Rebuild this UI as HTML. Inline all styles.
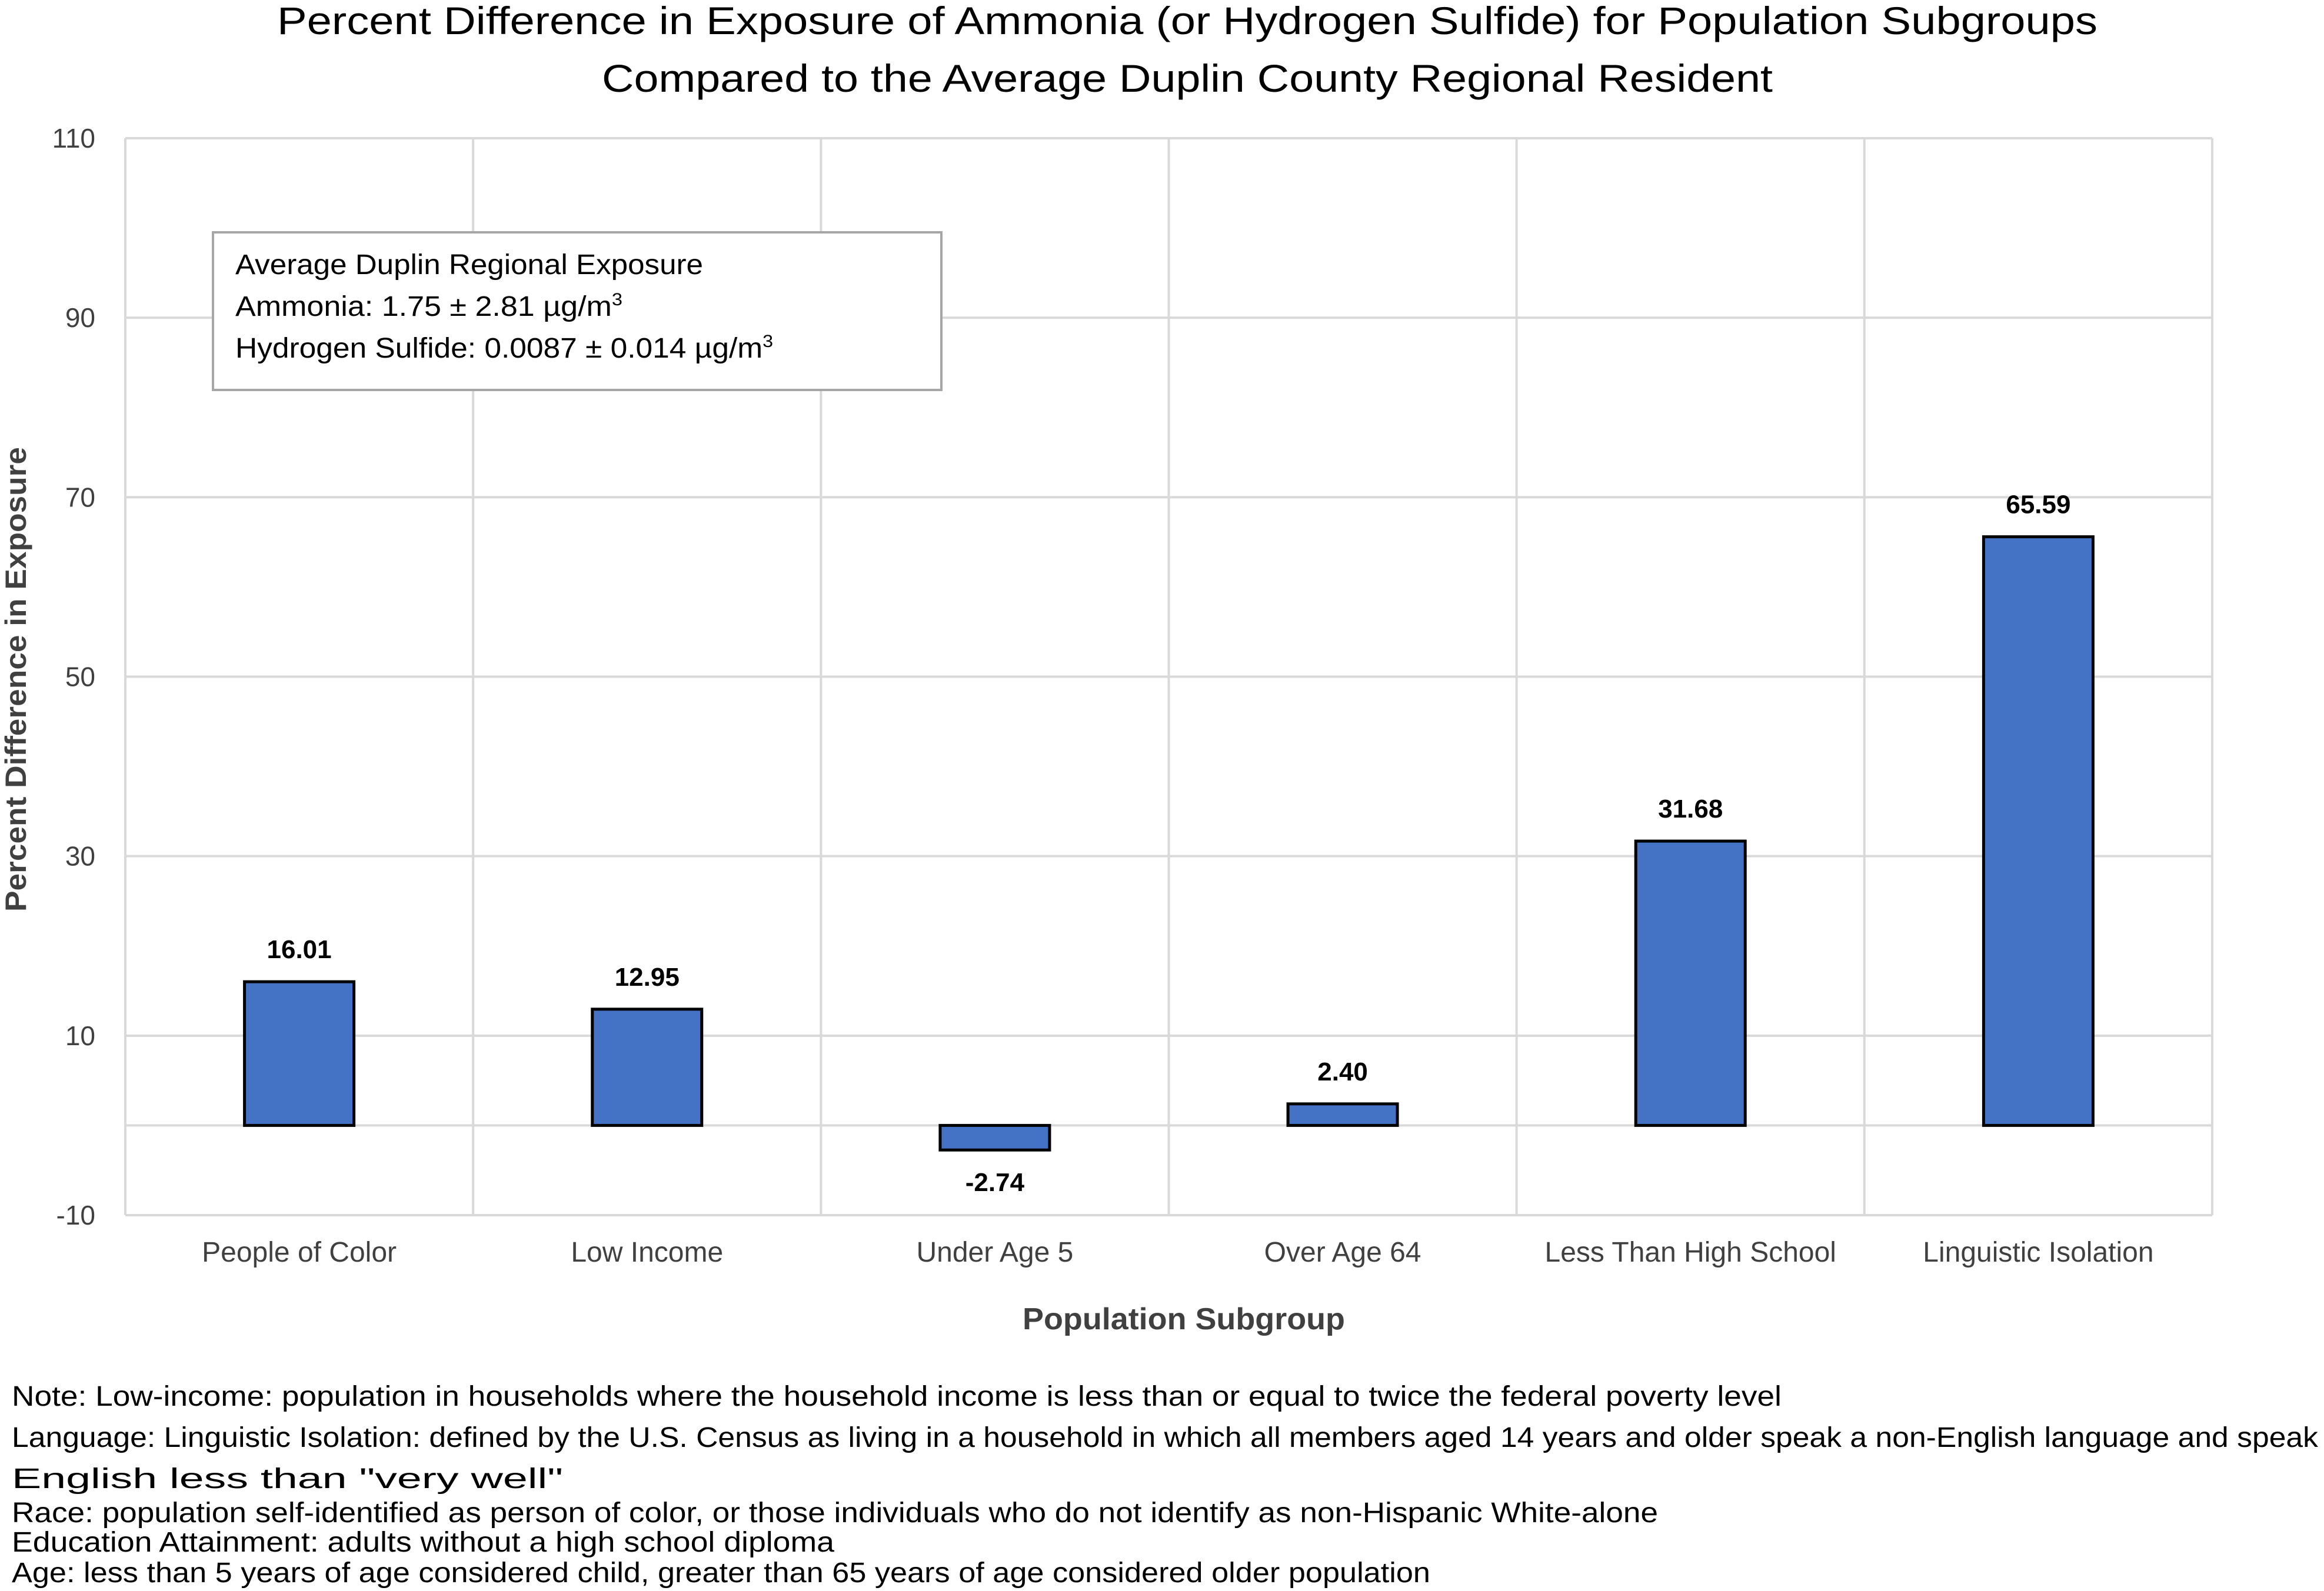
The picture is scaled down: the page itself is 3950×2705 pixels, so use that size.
<!DOCTYPE html>
<html><head><meta charset="utf-8"><style>
html,body{margin:0;padding:0;background:#fff;}
svg{display:block;font-family:"Liberation Sans",sans-serif;}
</style></head><body>
<svg id="chart" width="3950" height="2705" viewBox="0 0 3950 2705" xmlns="http://www.w3.org/2000/svg">
<g fill="#000" font-size="66" text-anchor="middle">
<text x="2018" y="58" textLength="3094" lengthAdjust="spacingAndGlyphs">Percent Difference in Exposure of Ammonia (or Hydrogen Sulfide) for Population Subgroups</text>
<text x="2018" y="156" textLength="1990" lengthAdjust="spacingAndGlyphs">Compared to the Average Duplin County Regional Resident</text>
</g>
<g id="grid"></g>
<g id="bars"></g>
<g id="yticks" font-size="46" fill="#404040" text-anchor="end"></g>
<g id="xticks" font-size="48" fill="#404040" text-anchor="middle"></g>
<text transform="translate(44,1155) rotate(-90)" text-anchor="middle" font-size="50" font-weight="bold" fill="#404040" textLength="790" lengthAdjust="spacingAndGlyphs">Percent Difference in Exposure</text>
<text x="2012" y="2260" text-anchor="middle" font-size="52" font-weight="bold" fill="#404040" textLength="548" lengthAdjust="spacingAndGlyphs">Population Subgroup</text>
<g>
<rect x="362" y="395" width="1238" height="268" fill="#fff" stroke="#a6a6a6" stroke-width="4"/>
<g font-size="48" fill="#000">
<text x="400" y="466" textLength="795" lengthAdjust="spacingAndGlyphs">Average Duplin Regional Exposure</text>
<text x="400" y="537" textLength="658" lengthAdjust="spacingAndGlyphs">Ammonia:  1.75 ± 2.81 µg/m<tspan font-size="30" dy="-18">3</tspan></text>
<text x="400" y="608" textLength="914" lengthAdjust="spacingAndGlyphs">Hydrogen Sulfide: 0.0087 ± 0.014 µg/m<tspan font-size="30" dy="-18">3</tspan></text>
</g>
</g>
<g font-size="48" fill="#000">
<text x="20" y="2390" textLength="3008" lengthAdjust="spacingAndGlyphs">Note: Low-income: population in households where the household income is less than or equal to twice the federal poverty level</text>
<text x="20" y="2460" textLength="3920" lengthAdjust="spacingAndGlyphs">Language: Linguistic Isolation: defined by the U.S. Census as living in a household in which all members aged 14 years and older speak a non-English language and speak</text>
<text x="20" y="2530" textLength="937" lengthAdjust="spacingAndGlyphs">English less than "very well"</text>
<text x="20" y="2588" textLength="2798" lengthAdjust="spacingAndGlyphs">Race: population self-identified as person of color, or those individuals who do not identify as non-Hispanic White-alone</text>
<text x="20" y="2638" textLength="1398" lengthAdjust="spacingAndGlyphs">Education Attainment: adults without a high school diploma</text>
<text x="20" y="2690" textLength="2411" lengthAdjust="spacingAndGlyphs">Age: less than 5 years of age considered child, greater than 65 years of age considered older population</text>
</g>
</svg>
<script>
const categories = ["People of Color","Low Income","Under Age 5","Over Age 64","Less Than High School","Linguistic Isolation"];
const values = [16.01, 12.95, -2.74, 2.40, 31.68, 65.59];
const valueLabels = ["16.01","12.95","-2.74","2.40","31.68","65.59"];
const yTicks = [110, 90, 70, 50, 30, 10, -10];

const NS = "http://www.w3.org/2000/svg";
const plotL = 213, plotR = 3760, plotT = 235, plotB = 2066;
const yMin = -10, yMax = 110;
function y(v){ return plotT + (yMax - v) / (yMax - yMin) * (plotB - plotT); }
const colW = (plotR - plotL) / categories.length;
function xc(i){ return plotL + colW * (i + 0.5); }
function mk(tag, attrs, parent){ const e = document.createElementNS(NS, tag); for (const k in attrs) e.setAttribute(k, attrs[k]); parent.appendChild(e); return e; }

const grid = document.getElementById('grid');
yTicks.forEach(t => {
  const l = mk('line', {x1: plotL, x2: plotR, y1: y(t), y2: y(t), stroke: '#d9d9d9', 'stroke-width': 4}, grid);
  
  
});
for (let i = 0; i <= categories.length; i++) {
  const x = plotL + colW * i;
  const l = mk('line', {x1: x, x2: x, y1: plotT, y2: plotB, stroke: '#d9d9d9', 'stroke-width': 4}, grid);
  
  
}
const zl = mk('line', {x1: plotL, x2: plotR, y1: y(0), y2: y(0), stroke: '#d9d9d9', 'stroke-width': 4}, grid);



const yt = document.getElementById('yticks');
yTicks.forEach(t => {
  const tx = mk('text', {x: 162, y: y(t) + 16}, yt);
  tx.textContent = t;
  
  
});

const xt = document.getElementById('xticks');
const bars = document.getElementById('bars');
const barW = 186;
categories.forEach((c, i) => {
  const tx = mk('text', {x: xc(i), y: 2145}, xt);
  tx.textContent = c;
  
  
  const v = values[i];
  const top = Math.min(y(v), y(0)), h = Math.abs(y(v) - y(0));
  const r = mk('rect', {x: xc(i) - barW/2, y: top, width: barW, height: h, fill: '#4472c4', stroke: '#000', 'stroke-width': 5}, bars);
  
  
  const ly = v >= 0 ? y(v) - 40 : y(v) + 70;
  const lb = mk('text', {x: xc(i), y: ly, 'text-anchor': 'middle', 'font-size': 44, 'font-weight': 'bold', fill: '#000'}, bars);
  lb.textContent = valueLabels[i];
  
  
});
</script>
</body></html>
